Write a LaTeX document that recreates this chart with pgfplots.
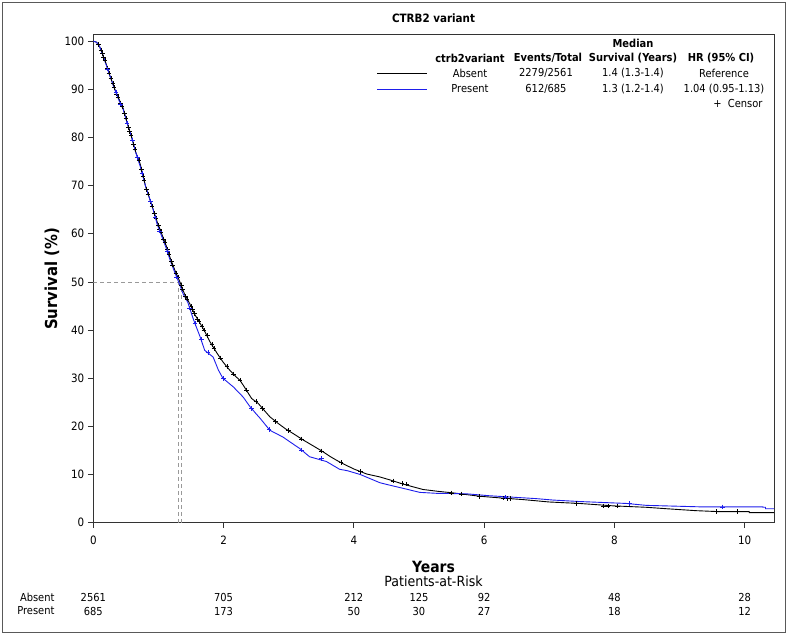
\documentclass[border=0pt]{standalone}
\usepackage{fontspec}
\setmainfont{DejaVu Sans Condensed}
\usepackage{pgfplots}
\pgfplotsset{compat=1.18}
\definecolor{kmblue}{RGB}{30,30,235}
\pgfplotstableread{
x y
0 100
0.05 99.8
0.1 98.8
0.15 97
0.2 95.2
0.25 93
0.33 90
0.4 87.8
0.46 86
0.52 83
0.59 80
0.65 77
0.72 74.5
0.8 70
0.86 67.5
0.92 65
0.98 62.5
1.05 60
1.12 57.5
1.18 55
1.25 52.5
1.33 50
1.40 47.5
1.48 45.5
1.56 43.2
1.64 41.4
1.72 39.5
1.79 37.6
1.84 36.5
1.9 35.2
1.99 33.4
2.05 32.4
2.1 31.6
2.2 30.2
2.25 29.6
2.3 28.6
2.43 25.8
2.53 24.8
2.62 23.4
2.71 22
2.84 20.6
2.95 19.5
3.07 18.5
3.22 17.2
3.37 16
3.53 14.7
3.63 13.8
3.73 13.0
3.87 12
4.01 11.1
4.2 10.1
4.4 9.5
4.55 8.9
4.76 8.0
5.06 6.9
5.3 6.5
5.52 6.2
5.75 5.8
5.93 5.5
6.29 5.1
6.6 4.8
7.0 4.3
7.46 4.0
7.98 3.5
8.49 3.2
8.8 2.9
9.25 2.5
9.6 2.3
10.07 2.3
10.07 2.1
10.45 2.1
}\absent
\pgfplotstableread{
x y
0 100
0.05 99.8
0.1 98.8
0.15 97
0.2 95
0.25 93
0.33 90
0.4 87.5
0.46 85.8
0.52 83
0.59 80
0.65 77
0.72 74
0.8 70
0.86 67.5
0.92 65
0.98 62
1.05 59.5
1.12 57
1.18 54.5
1.25 52
1.31 50
1.38 47.5
1.45 45.8
1.53 42.5
1.56 41.4
1.64 38.6
1.71 35.8
1.84 34.4
1.92 31.7
1.99 30.0
2.15 28.2
2.3 26.1
2.4 24.2
2.5 22.6
2.56 21.7
2.71 19.2
2.91 17.8
3.05 16.5
3.17 15.4
3.32 13.7
3.45 13.2
3.58 12.7
3.78 11.1
3.9 10.8
4.1 10.0
4.4 8.3
4.55 7.8
4.86 6.8
5.01 6.3
5.27 6.1
5.73 6.0
6.08 5.6
6.44 5.3
6.8 5.0
7.06 4.7
7.46 4.4
8.18 4.0
8.49 3.6
9.3 3.3
10.28 3.3
10.28 3.2
10.32 3.2
10.32 2.9
10.45 2.9
}\present
\pgfplotstableread{
x y
0.08 99.3
0.12 98.2
0.14 97.4
0.16 96.6
0.18 96
0.22 94.3
0.24 93.4
0.27 92.2
0.3 91.2
0.32 90.4
0.36 89
0.38 88.4
0.42 87.2
0.44 86.5
0.48 85
0.5 84
0.54 82.1
0.56 81.3
0.58 80.4
0.62 78.5
0.64 77.5
0.68 75.9
0.7 75.2
0.74 73.4
0.76 72
0.78 71.1
0.82 69.2
0.84 68.3
0.88 66.7
0.9 65.8
0.94 64.2
0.96 63.3
1.0 61.8
1.02 61
1.04 60.4
1.08 58.9
1.1 58.2
1.14 56.8
1.16 55.7
1.2 54.3
1.22 53.5
1.27 51.9
1.3 51
1.35 49.3
1.37 48.5
1.42 47
1.44 46.5
1.5 44.9
1.52 44.3
1.55 43.5
1.6 42.3
1.62 41.8
1.67 40.8
1.7 40
1.75 38.9
1.82 37
1.85 36.2
1.95 34.2
2.05 32.4
2.15 30.9
2.25 29.6
2.35 27.6
2.5 25.2
2.6 23.7
2.8 21
3.0 19.1
3.2 17.4
3.5 14.9
3.8 12.5
4.1 10.6
4.6 8.7
4.74 8.1
4.81 8.0
5.5 6.2
5.65 6.0
5.93 5.5
6.29 5.1
6.35 5.0
6.4 5.0
7.41 4.0
7.83 3.5
7.9 3.5
8.05 3.5
9.56 2.3
9.89 2.3
}\absentcens
\pgfplotstableread{
x y
0.22 94.2
0.35 89.3
0.42 87
0.52 83
0.6 79.5
0.68 75.8
0.75 72.5
0.88 66.8
0.95 63.5
1.02 60.6
1.14 56.3
1.28 51
1.48 44.6
1.56 41.4
1.66 38
1.76 35.4
2.0 29.9
2.43 23.7
2.7 19.4
3.2 15.1
3.5 13.3
6.33 5.3
8.23 4.0
9.66 3.3
}\presentcens
\begin{document}
\begin{tikzpicture}[x=1pt,y=1pt]
\path[use as bounding box] (0,0) rectangle (788,635);
\draw[black!65, line width=1.2pt] (2.5,2.5) rectangle (785.5,632.5);
\begin{axis}[
  at={(93.3pt,112.3pt)}, anchor=south west,
  scale only axis, width=680.7pt, height=488.7pt,
  xmin=0, xmax=10.45, ymin=0, ymax=101.5,
  xtick={0,2,4,6,8,10}, ytick={0,10,20,30,40,50,60,70,80,90,100},
  tick align=outside, xtick pos=bottom, ytick pos=left,
  major tick length=5.5pt,
  tick style={black!80, line width=0.8pt},
  axis line style={black!80, line width=0.9pt},
  ticklabel style={font=\fontsize{11.5}{13}\selectfont},
  xticklabel style={yshift=-4pt},
  /pgf/number format/assume math mode=true,
  clip mode=individual,
]
\addplot[gray!80, line width=0.8pt, dash pattern=on 4pt off 3pt] coordinates {(0,50) (1.33,50)};
\addplot[gray!80, line width=0.8pt, dash pattern=on 4pt off 3pt] coordinates {(1.30,0) (1.30,50)};
\addplot[gray!80, line width=0.8pt, dash pattern=on 4pt off 3pt] coordinates {(1.36,0) (1.36,50)};
\addplot[black, line width=0.9pt, mark=none] table[x=x,y=y] {\absent};
\addplot[kmblue, line width=0.9pt, mark=none] table[x=x,y=y] {\present};
\addplot[only marks, black, mark=+, mark size=2.3pt, line width=0.6pt] table[x=x,y=y] {\absentcens};
\addplot[only marks, kmblue, mark=+, mark size=2.3pt, line width=0.6pt] table[x=x,y=y] {\presentcens};
% at-risk numbers
\node[font=\fontsize{11}{13}\selectfont, yshift=-74.3pt] at (axis cs:0,0) {2561};
\node[font=\fontsize{11}{13}\selectfont, yshift=-74.3pt] at (axis cs:2,0) {705};
\node[font=\fontsize{11}{13}\selectfont, yshift=-74.3pt] at (axis cs:4,0) {212};
\node[font=\fontsize{11}{13}\selectfont, yshift=-74.3pt] at (axis cs:5,0) {125};
\node[font=\fontsize{11}{13}\selectfont, yshift=-74.3pt] at (axis cs:6,0) {92};
\node[font=\fontsize{11}{13}\selectfont, yshift=-74.3pt] at (axis cs:8,0) {48};
\node[font=\fontsize{11}{13}\selectfont, yshift=-74.3pt] at (axis cs:10,0) {28};
\node[font=\fontsize{11}{13}\selectfont, yshift=-88.3pt] at (axis cs:0,0) {685};
\node[font=\fontsize{11}{13}\selectfont, yshift=-88.3pt] at (axis cs:2,0) {173};
\node[font=\fontsize{11}{13}\selectfont, yshift=-88.3pt] at (axis cs:4,0) {50};
\node[font=\fontsize{11}{13}\selectfont, yshift=-88.3pt] at (axis cs:5,0) {30};
\node[font=\fontsize{11}{13}\selectfont, yshift=-88.3pt] at (axis cs:6,0) {27};
\node[font=\fontsize{11}{13}\selectfont, yshift=-88.3pt] at (axis cs:8,0) {18};
\node[font=\fontsize{11}{13}\selectfont, yshift=-88.3pt] at (axis cs:10,0) {12};
\end{axis}
% titles and labels
\node[font=\bfseries\fontsize{11.5}{14}\selectfont] at (433.5,617) {CTRB2 variant};
\node[font=\bfseries\fontsize{16.5}{18}\selectfont, rotate=90] at (52,356) {Survival (\%)};
\node[font=\bfseries\fontsize{15.5}{17}\selectfont] at (433.5,68) {Years};
\node[font=\fontsize{14}{16}\selectfont] at (433.5,54) {Patients-at-Risk};
\node[font=\fontsize{11}{13}\selectfont, anchor=east] at (58,38) {Absent};
\node[font=\fontsize{11}{13}\selectfont, anchor=east] at (58,24) {Present};
% legend table
\begin{scope}[every node/.style={font=\fontsize{11}{13}\selectfont}]
\node[font=\bfseries\fontsize{11}{13}\selectfont] at (633,592) {Median};
\node[font=\bfseries\fontsize{11}{13}\selectfont] at (470,577) {ctrb2variant};
\node[font=\bfseries\fontsize{11}{13}\selectfont] at (548,577) {Events/Total};
\node[font=\bfseries\fontsize{11}{13}\selectfont] at (633,577) {Survival (Years)};
\node[font=\bfseries\fontsize{11}{13}\selectfont] at (721,577) {HR (95\% CI)};
\draw[black, line width=0.9pt] (377,562) -- (427,562);
\draw[kmblue, line width=0.9pt] (377,546) -- (427,546);
\node at (470,562) {Absent};
\node at (546,562) {2279/2561};
\node at (633,562) {1.4 (1.3-1.4)};
\node at (724,562) {Reference};
\node at (470,546) {Present};
\node at (546,546) {612/685};
\node at (633,546) {1.3 (1.2-1.4)};
\node at (724,546) {1.04 (0.95-1.13)};
\node[anchor=east] at (766,531) {+\ \ Censor};
\end{scope}
\end{tikzpicture}
\end{document}
